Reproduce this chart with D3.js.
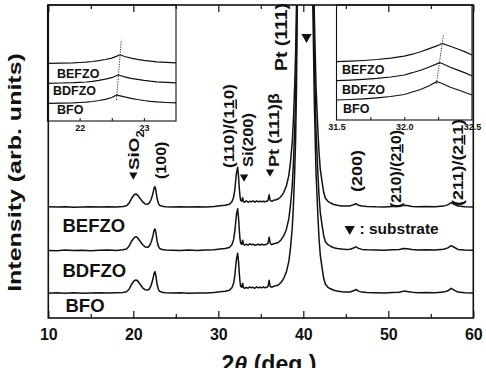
<!DOCTYPE html>
<html>
<head>
<meta charset="utf-8">
<script src="https://cdn.jsdelivr.net/npm/d3@7/dist/d3.min.js"></script>
<style>
  html, body { margin: 0; padding: 0; background: #fff; }
  svg { display: block; font-family: "Liberation Sans", Arial, sans-serif; font-weight: bold; }
</style>
</head>
<body>
<svg id="chart" width="486" height="368"></svg>
<script>
// 2theta grid (deg) and intensity above each trace's own baseline (arb. units)
const twoTheta = [
  10.0, 11.0, 12.0, 13.0, 14.0, 15.0, 16.0, 17.0, 18.0, 18.8,
  19.2, 19.5, 19.8, 20.1, 20.3, 20.5, 20.8, 21.1, 21.4, 21.7,
  21.9, 22.1, 22.3, 22.45, 22.55, 22.65, 22.8, 22.95, 23.1, 23.4,
  23.8, 24.5, 25.5, 26.5, 27.5, 28.5, 29.5, 30.2, 30.8, 31.3,
  31.6, 31.8, 31.95, 32.05, 32.15, 32.28, 32.38, 32.47, 32.55, 32.63,
  32.75, 32.87, 32.95, 33.1, 33.3, 33.5, 33.7, 33.9, 34.1, 34.3,
  34.5, 34.7, 34.9, 35.1, 35.3, 35.5, 35.7, 35.85, 35.98, 36.1,
  36.3, 36.5, 36.8, 37.1, 37.4, 37.7, 38.0, 38.3, 38.5, 38.7,
  38.85, 39.0, 39.1, 39.2, 39.3, 39.45, 39.7, 40.1, 40.6, 40.9,
  41.1, 41.3, 41.5, 41.7, 41.85, 42.0, 42.2, 42.4, 42.6, 42.9,
  43.2, 43.6, 44.0, 44.5, 45.0, 45.5, 45.9, 46.2, 46.5, 46.9,
  47.5, 48.5, 49.5, 50.5, 51.3, 51.8, 52.2, 52.8, 53.5, 54.5,
  55.5, 56.5, 57.0, 57.4, 57.8, 58.2, 59.0, 60.0
];
const bfo = [
  0, 0.5, 0, 0.5, 0, 0.3, 0.6, 0.2, 0.5, 0.8,
  1.5, 4, 9, 12.5, 13.3, 12.5, 9, 5.5, 3.5, 3.2,
  4.5, 8, 14, 20, 21.7, 18, 9, 4, 2, 1,
  0.5, 0.2, 0.5, 0, 0.4, 0.2, 0.8, 1.5, 2, 3,
  5.5, 10, 18, 27, 35, 40, 32, 20, 12, 7,
  6, 10, 6, 5, 6, 5, 6.5, 5.5, 6, 5,
  6.5, 5.5, 6, 5.5, 6.5, 5.5, 6, 7, 13, 7,
  6, 7, 7.5, 8.5, 11, 15, 21, 32, 46, 65,
  90, 125, 155, 205, 300, 450, 800, 1000, 800, 450,
  300, 190, 120, 80, 55, 38, 26, 15, 9, 6,
  4.5, 3, 2.2, 1.5, 1.2, 1.3, 2.5, 3.8, 2.2, 1.2,
  0.8, 0.6, 0.3, 0.8, 1, 2.2, 1.8, 1, 0.5, 0.8,
  0.5, 1.2, 2.5, 5, 3, 1.2, 0.5, 0.3
];
const bdfzo = [
  0.3, 0, 0.6, 0.2, 0.5, 0, 0.4, 0.7, 0.3, 1,
  1.8, 4.5, 9.5, 13, 14, 13, 9.5, 6, 3.8, 3.4,
  4.8, 8.5, 14.5, 20.5, 21.7, 18.5, 9.5, 4.5, 2.2, 1.2,
  0.6, 0.4, 0.2, 0.6, 0.3, 0.6, 1, 1.6, 2.2, 3.2,
  6, 11, 20, 29, 37, 42, 33, 21, 12, 7.5,
  6.5, 10.5, 6.5, 5.5, 6.5, 5.5, 7, 6, 6.5, 5.5,
  6, 6.5, 5.5, 6.5, 6, 6, 6.5, 7.5, 13.5, 7.5,
  6, 7, 7.5, 8.5, 11, 15, 21, 32, 46, 65,
  90, 125, 155, 205, 300, 450, 800, 1000, 800, 450,
  300, 190, 120, 80, 55, 38, 26, 15, 9, 6,
  4.5, 3, 2.3, 1.6, 1.3, 1.5, 2.7, 3.8, 2.3, 1.3,
  1, 0.7, 0.5, 0.9, 1.2, 2.3, 2, 1.1, 0.7, 0.9,
  0.7, 1.4, 2.8, 5, 3.2, 1.3, 0.7, 0.5
];
const befzo = [
  0.5, 0.2, 0.6, 0, 0.4, 0.5, 0.2, 0.6, 0.4, 0.9,
  1.6, 4.2, 9, 12.5, 13.3, 12.3, 8.8, 5.5, 3.4, 3.1,
  4.4, 7.8, 13.5, 19.5, 20.7, 17.5, 8.8, 4, 2, 1,
  0.5, 0.3, 0.6, 0.2, 0.5, 0.3, 0.9, 1.6, 2.1, 3,
  5.5, 10, 18, 27, 35, 40, 31, 19, 11.5, 7,
  6, 9.5, 6, 5, 6.5, 5, 6, 5.5, 6.5, 5,
  6.5, 5.5, 6, 5.5, 6, 5.5, 6, 7, 12.5, 7,
  6, 7, 7.5, 8.5, 11, 15, 21, 32, 46, 65,
  90, 125, 155, 205, 300, 450, 800, 1000, 800, 450,
  300, 190, 120, 80, 55, 38, 26, 15, 9, 6,
  4.3, 2.8, 2, 1.4, 1.2, 1.4, 2.5, 3.6, 2, 1.2,
  0.8, 0.5, 0.4, 0.9, 1, 2, 1.7, 0.9, 0.5, 0.8,
  0.6, 1.2, 2.4, 4.8, 2.8, 1.2, 0.5, 0.4
];
const sampleNames = ['BFO', 'BDFZO', 'BEFZO'];
const stackOffsets = [24.7, 67.3, 110.7];
const xTicksMajor = [10, 20, 30, 40, 50, 60];
const xTicksMinor = [15, 25, 35, 45, 55];

// inset around the (100) reflection
const insetATheta = [21.5, 21.7, 21.9, 22.0, 22.1, 22.2, 22.3, 22.4, 22.5, 22.58, 22.6, 22.63, 22.7, 22.8, 22.9, 23.0, 23.1, 23.2, 23.35, 23.5];
const insetABfo   = [0, 0.2, 0.5, 0.8, 1.2, 1.8, 2.8, 4, 5.8, 8.3, 8, 7.5, 6.4, 5, 3.8, 2.8, 2, 1.4, 0.8, 0.4];
const insetABdfzo = [0, 0.3, 0.6, 0.9, 1.3, 2, 3, 4.2, 5.6, 7.8, 8.3, 7.8, 6.5, 5, 3.9, 2.9, 2.1, 1.5, 0.9, 0.5];
const insetABefzo = [0, 0.2, 0.5, 0.8, 1.2, 1.8, 2.7, 3.8, 5.2, 7.2, 7.8, 8.5, 6.8, 5.2, 4, 3, 2.2, 1.5, 0.9, 0.4];
const insetAOffsets = [17.7, 37.7, 57.7];
const insetATicks = [22, 22.5, 23];
const insetATickLabels = [22, 23];

// inset around the (110)/(1-10) reflection
const insetBTheta = [31.5, 31.6, 31.7, 31.8, 31.9, 32.0, 32.06, 32.12, 32.18, 32.24, 32.26, 32.28, 32.34, 32.4, 32.45, 32.5];
const insetBBfo   = [0, 0.5, 1.2, 2.2, 3.5, 5.5, 8, 10.5, 14, 18.3, 17.5, 16.5, 12.7, 10, 7.5, 5];
const insetBBdfzo = [0, 0.6, 1.3, 2.3, 3.7, 5.7, 8, 10.5, 13.5, 16.8, 18, 17.2, 13.5, 10.3, 7.8, 4.7];
const insetBBefzo = [0, 0.5, 1.2, 2.2, 3.6, 5.5, 7.5, 10, 12.8, 15.8, 17, 18.3, 15.5, 12.5, 9.8, 6.7];
const insetBOffsets = [20, 39.3, 58.3];
const insetBTicks = [31.75, 32, 32.25];
const insetBTickLabels = [31.5, 32.0, 32.5];

// ── layout ─────────────────────────────────────────────
const INK = '#111';
const M = { left: 48.3, right: 473.3, top: 5, bottom: 318 };
const svg = d3.select('#chart');
svg.append('rect').attr('width', 486).attr('height', 368).attr('fill', '#fff');

const x = d3.scaleLinear().domain([10, 60]).range([M.left, M.right]);
const y = d3.scaleLinear().domain([0, M.bottom - M.top]).range([M.bottom, M.top]);

svg.append('clipPath').attr('id', 'plot-clip').append('rect')
  .attr('x', M.left).attr('y', M.top)
  .attr('width', M.right - M.left).attr('height', M.bottom - M.top);

const traceG = svg.append('g').attr('clip-path', 'url(#plot-clip)');
[bfo, bdfzo, befzo].forEach((s, k) => {
  const line = d3.line().x((d, i) => x(twoTheta[i])).y(d => y(d + stackOffsets[k]));
  traceG.append('path').datum(s).attr('d', line)
    .attr('fill', 'none').attr('stroke', INK)
    .attr('stroke-width', 1.5).attr('stroke-linejoin', 'round');
});

// ── insets ─────────────────────────────────────────────
function drawInset(cfg) {
  const xs = d3.scaleLinear().domain(cfg.domain).range([cfg.x0, cfg.x1]);
  const ys = d3.scaleLinear().domain([0, cfg.y1 - cfg.y0]).range([cfg.y1, cfg.y0]);
  const g = svg.append('g');
  g.append('rect').attr('x', cfg.x0).attr('y', cfg.y0)
    .attr('width', cfg.x1 - cfg.x0).attr('height', cfg.y1 - cfg.y0)
    .attr('fill', '#fff');

  cfg.series.forEach((s, k) => {
    const line = d3.line().x((d, i) => xs(cfg.theta[i])).y(d => ys(d + cfg.offsets[k]));
    g.append('path').datum(s).attr('d', line)
      .attr('fill', 'none').attr('stroke', INK).attr('stroke-width', 1.2);
  });

  // dotted guide through the peak maxima
  const peaks = cfg.series.map((s, k) => {
    const i = d3.maxIndex(s);
    return [xs(cfg.theta[i]), ys(s[i] + cfg.offsets[k])];
  });
  const p0 = peaks[0], p1 = peaks[peaks.length - 1];
  const dx = p1[0] - p0[0], dy = p1[1] - p0[1], L = Math.hypot(dx, dy);
  g.append('line')
    .attr('x1', p0[0] - dx / L * cfg.guide[1]).attr('y1', p0[1] - dy / L * cfg.guide[1])
    .attr('x2', p1[0] + dx / L * cfg.guide[0]).attr('y2', p1[1] + dy / L * cfg.guide[0])
    .attr('stroke', INK).attr('stroke-width', 0.9).attr('stroke-dasharray', '1.2,1.3');

  cfg.names.forEach((n, k) => {
    g.append('text').attr('x', cfg.nameX[k]).attr('y', cfg.nameY[k])
      .attr('font-size', 12.5).attr('fill', INK).text(n);
  });

  g.append('g').attr('transform', `translate(0,${cfg.y1})`)
    .call(d3.axisBottom(xs).tickValues(cfg.ticks).tickSize(-3).tickFormat(''))
    .call(g => { g.select('.domain').remove(); g.selectAll('line').attr('stroke', INK); });
  g.append('g').attr('transform', `translate(0,${cfg.y1})`)
    .call(d3.axisBottom(xs).tickValues(cfg.labels).tickSize(0).tickPadding(4).tickFormat(cfg.fmt))
    .call(g => {
      g.select('.domain').remove();
      g.attr('font-family', null).attr('font-size', 9);
      g.selectAll('text').attr('fill', INK);
    });

  g.append('rect').attr('x', cfg.x0).attr('y', cfg.y0)
    .attr('width', cfg.x1 - cfg.x0).attr('height', cfg.y1 - cfg.y0)
    .attr('fill', 'none').attr('stroke', INK).attr('stroke-width', 1.1);
}

drawInset({
  x0: 47.5, x1: 176, y0: 5, y1: 121, domain: [21.5, 23.5],
  theta: insetATheta, series: [insetABfo, insetABdfzo, insetABefzo], offsets: insetAOffsets,
  guide: [15, 5], names: sampleNames, nameX: [57, 53, 57], nameY: [114.3, 95, 78.3],
  ticks: insetATicks, labels: insetATickLabels, fmt: d3.format('d')
});
drawInset({
  x0: 336.5, x1: 472, y0: 5, y1: 120, domain: [31.5, 32.5],
  theta: insetBTheta, series: [insetBBfo, insetBBdfzo, insetBBefzo], offsets: insetBOffsets,
  guide: [8, 2], names: sampleNames, nameX: [343, 342, 342], nameY: [113.3, 94, 74],
  ticks: insetBTicks, labels: insetBTickLabels, fmt: d3.format('.1f')
});

// ── main axes ──────────────────────────────────────────
function tickStyle(g) {
  g.select('.domain').remove();
  g.selectAll('line').attr('stroke', INK).attr('stroke-width', 1.2);
}
svg.append('g').attr('transform', `translate(0,${M.bottom})`)
  .call(d3.axisBottom(x).tickValues(xTicksMajor).tickSize(-7).tickPadding(10.6).tickFormat(d3.format('d')))
  .call(tickStyle)
  .call(g => { g.attr('font-family', null).attr('font-size', 16); g.selectAll('text').attr('fill', INK); });
svg.append('g').attr('transform', `translate(0,${M.bottom})`)
  .call(d3.axisBottom(x).tickValues(xTicksMinor).tickSize(-4).tickFormat(''))
  .call(tickStyle);
svg.append('g').attr('transform', `translate(0,${M.top})`)
  .call(d3.axisTop(x).tickValues(xTicksMajor).tickSize(-7).tickFormat(''))
  .call(tickStyle);
svg.append('g').attr('transform', `translate(0,${M.top})`)
  .call(d3.axisTop(x).tickValues(xTicksMinor).tickSize(-4).tickFormat(''))
  .call(tickStyle);

svg.append('rect')
  .attr('x', M.left).attr('y', M.top)
  .attr('width', M.right - M.left).attr('height', M.bottom - M.top)
  .attr('fill', 'none').attr('stroke', INK).attr('stroke-width', 1.6);

// ── titles ─────────────────────────────────────────────
function stretchedText(tx, ty, rotate, size, len, parts, anchor) {
  const g = svg.append('g');
  const t = g.append('text').attr('font-size', size).attr('fill', INK)
    .attr('text-anchor', anchor || 'start');
  parts.forEach(p => {
    const ts = t.append('tspan').text(p.t);
    if (p.u) ts.style('text-decoration', 'underline');
    if (p.sub) ts.attr('font-size', size * 0.68).attr('dy', size * 0.32);
    if (p.it) ts.attr('font-style', 'italic');
  });
  const w = t.node().getBBox().width;
  const s = len ? len / w : 1;
  g.attr('transform', `translate(${tx},${ty}) rotate(${rotate}) scale(${s},1)`);
  return g;
}

stretchedText(21.2, 172.5, -90, 18, 239, [{ t: 'Intensity (arb. units)' }], 'middle');
stretchedText(269, 371.5, 0, 23, 95, [{ t: '2' }, { t: 'θ', it: true }, { t: ' (deg.)' }], 'middle');

// sample names on main plot
const mainNameY = [312, 277, 232];
const mainNameX = [65.5, 62.5, 62.5];
sampleNames.forEach((n, k) => {
  svg.append('text').attr('x', mainNameX[k]).attr('y', mainNameY[k])
    .attr('font-size', 18.5).attr('fill', INK).text(n);
});

// ── peak annotations ──────────────────────────────────
const peakLabels = [
  { at: 20.0,  y: 170, size: 15, len: 40, parts: [{ t: 'SiO' }, { t: '2', sub: true }] },
  { at: 23.2,  y: 179, size: 15, len: 37.5, parts: [{ t: '(100)' }] },
  { at: 31.27, y: 168, size: 15, len: 83, parts: [{ t: '(110)/(1' }, { t: '1', u: true }, { t: '0)' }] },
  { at: 33.43, y: 167, size: 15, len: 54, parts: [{ t: 'Si(200)' }] },
  { at: 36.55, y: 167, size: 15, len: 74, parts: [{ t: 'Pt (111)β' }] },
  { at: 37.35, y: 71,  size: 16, len: 68, parts: [{ t: 'Pt (111)' }] },
  { at: 46.24, y: 192, size: 15, len: 42, parts: [{ t: '(200)' }] },
  { at: 50.85, y: 208, size: 15, len: 78, parts: [{ t: '(210)/(2' }, { t: '1', u: true }, { t: '0)' }] },
  { at: 58.14, y: 206, size: 15, len: 86, parts: [{ t: '(211)/(2' }, { t: '1', u: true }, { t: '1)' }] }
];
peakLabels.forEach(d => {
  stretchedText(x(d.at) + 0.36 * d.size, d.y, -90, d.size, d.len, d.parts);
});

const substrateMarks = [
  { at: 20.0,  y: 175, size: 30 },
  { at: 33.03, y: 177, size: 30 },
  { at: 36.08, y: 172, size: 30 },
  { at: 40.38, y: 37,  size: 46 }
];
const tri = d3.symbol().type(d3.symbolTriangle);
substrateMarks.forEach(d => {
  svg.append('path').attr('d', tri.size(d.size)())
    .attr('transform', `translate(${x(d.at)},${d.y}) rotate(180)`)
    .attr('fill', INK);
});

// legend for the substrate marker
svg.append('path').attr('d', tri.size(46)())
  .attr('transform', 'translate(349.7,229) rotate(180)').attr('fill', INK);
svg.append('text').attr('x', 359.5).attr('y', 234)
  .attr('font-size', 15.5).attr('fill', INK).text(': substrate');
</script>
</body>
</html>
